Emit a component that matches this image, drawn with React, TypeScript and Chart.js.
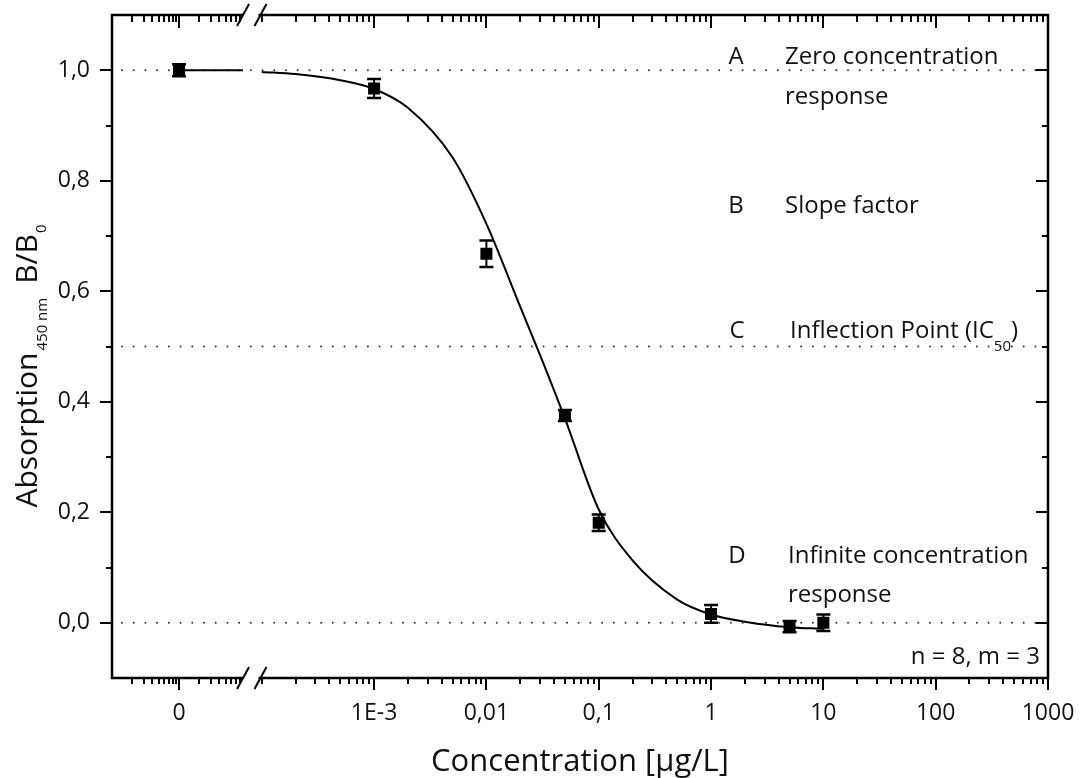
import React, { useEffect, useRef } from 'react';
import { Chart, Scale, registerables } from 'chart.js';

Chart.register(...registerables);

// ---------------- data ----------------
// measured points (concentration in µg/L, B/B0 mean, error)
const xConc = [0, 1e-3, 1e-2, 0.05, 0.1, 1, 5, 10];
const yMean = [1.0, 0.967, 0.668, 0.375, 0.181, 0.016, -0.007, 0.0];
const yErr = [0.011, 0.017, 0.024, 0.01, 0.015, 0.016, 0.01, 0.015];

// fitted sigmoid
const fitX = [1e-4, 2e-4, 5e-4, 1e-3, 2e-3, 5e-3, 0.01, 0.02, 0.03, 0.05, 0.1, 0.2, 0.5, 1, 2, 5, 10];
const fitY = [0.997, 0.993, 0.982, 0.966, 0.932, 0.842, 0.722, 0.572, 0.485, 0.37, 0.205, 0.113, 0.042, 0.015, 0.002, -0.008, -0.011];

// horizontal fit line in the "0" segment (left of the axis break)
const zeroLineX = [0, 9e-6];
const zeroLineY = [1.0, 1.0];

// dotted reference levels (A, C, D)
const refLevels = [1.0, 0.5, 0.0];

const xTickValues = [0, 1e-3, 1e-2, 0.1, 1, 10, 100, 1000];
const xTickLabels = ['0', '1E-3', '0,01', '0,1', '1', '10', '100', '1000'];
const yTickValues = [0, 0.2, 0.4, 0.6, 0.8, 1.0];
const yTickLabels = ['0,0', '0,2', '0,4', '0,6', '0,8', '1,0'];
const yMinorTicks = [0.1, 0.3, 0.5, 0.7, 0.9];

// ---------------- broken log axis geometry ----------------
const SEG = {
  zeroFrac: 0.0716, // where "0" sits (fraction of width)
  zeroDec: 0.0716, // width of a decade in the "0" segment
  zeroAt: 1e-6, // virtual value of "0" inside the left segment
  zeroSegMax: 1e-5,
  mainDec: 0.12, // width of a decade in the main segment
  mainMaxLog: 3,
  breakL: 0.14,
  breakR: 0.1565,
};

function fracOf(v: number) {
  if (v <= 0) return SEG.zeroFrac;
  if (v < SEG.zeroSegMax) return SEG.zeroFrac + Math.log10(v / SEG.zeroAt) * SEG.zeroDec;
  return 1 + (Math.log10(v) - SEG.mainMaxLog) * SEG.mainDec;
}

class BrokenLogScale extends Scale {
  static id = 'brokenLog';
  static defaults = {};
  determineDataLimits() {
    this.min = 0;
    this.max = 1000;
  }
  buildTicks() {
    return xTickValues.map((v) => ({ value: v }));
  }
  getLabelForValue(v: number) {
    return String(v);
  }
  getPixelForValue(v: number) {
    return this.getPixelForDecimal(fracOf(v));
  }
  getValueForPixel(p: number) {
    const f = this.getDecimalForPixel(p);
    if (f < (SEG.breakL + SEG.breakR) / 2) return SEG.zeroAt * Math.pow(10, (f - SEG.zeroFrac) / SEG.zeroDec);
    return Math.pow(10, (f - 1) / SEG.mainDec + SEG.mainMaxLog);
  }
}
Chart.register(BrokenLogScale);

const FONT = "'Open Sans', 'Noto Sans', sans-serif";

function minorXValues() {
  const zero: number[] = [];
  for (let m = 2; m <= 9; m++) zero.push(m * 1e-7);
  for (let m = 2; m <= 9; m++) zero.push(m * 1e-6);
  const main: number[] = [1e-4];
  for (let d = -4; d <= 2; d++) for (let m = 2; m <= 9; m++) main.push(m * Math.pow(10, d));
  return zero.concat(main);
}

const framePlugin = {
  id: 'frame',
  beforeDatasetsDraw(chart: any) {
    const { ctx, chartArea } = chart;
    const { left, right, top, bottom } = chartArea;
    const xs = chart.scales.x;
    const ys = chart.scales.y;
    ctx.save();
    // dotted reference lines
    ctx.strokeStyle = '#333';
    ctx.lineWidth = 2;
    ctx.lineCap = 'round';
    ctx.setLineDash([0.01, 11.7]);
    refLevels.forEach((lv) => {
      const py = ys.getPixelForValue(lv);
      ctx.beginPath();
      ctx.moveTo(left + 10, py);
      ctx.lineTo(right - 10, py);
      ctx.stroke();
    });
    ctx.setLineDash([]);
    ctx.lineCap = 'butt';

    // frame
    ctx.strokeStyle = '#000';
    ctx.lineWidth = 2.5;
    const bl = xs.getPixelForDecimal(SEG.breakL);
    const br = xs.getPixelForDecimal(SEG.breakR);
    ctx.beginPath();
    ctx.moveTo(left, top - 1);
    ctx.lineTo(left, bottom + 1);
    ctx.moveTo(right, top - 1);
    ctx.lineTo(right, bottom + 1);
    [top, bottom].forEach((py) => {
      ctx.moveTo(left - 1, py);
      ctx.lineTo(bl, py);
      ctx.moveTo(br, py);
      ctx.lineTo(right + 1, py);
    });
    ctx.stroke();
    // break marks
    ctx.lineWidth = 2;
    [top, bottom].forEach((py) => {
      [bl, br + 2].forEach((px) => {
        ctx.beginPath();
        ctx.moveTo(px - 6, py + 11);
        ctx.lineTo(px + 6, py - 11);
        ctx.stroke();
      });
    });

    // x ticks (bottom outward, top inward)
    ctx.lineWidth = 2;
    const drawX = (v: number, len: number) => {
      const px = Math.round(xs.getPixelForValue(v));
      if (px < left + 2 || px > right) return;
      if (px > bl - 2 && px < br + 2) return;
      ctx.beginPath();
      ctx.moveTo(px, bottom);
      ctx.lineTo(px, bottom + len);
      ctx.moveTo(px, top);
      ctx.lineTo(px, top + len + 1);
      ctx.stroke();
    };
    minorXValues().forEach((v) => drawX(v, 6));
    xTickValues.forEach((v) => drawX(v, 12));

    // y ticks (left outward, right inward)
    const drawY = (v: number, len: number) => {
      const py = Math.round(ys.getPixelForValue(v));
      ctx.beginPath();
      ctx.moveTo(left, py);
      ctx.lineTo(left - len, py);
      ctx.moveTo(right, py);
      ctx.lineTo(right - len, py);
      ctx.stroke();
    };
    yMinorTicks.forEach((v) => drawY(v, 6));
    yTickValues.forEach((v) => drawY(v, 12));

    // error bars
    ctx.lineWidth = 2;
    xConc.forEach((xv, i) => {
      const px = xs.getPixelForValue(xv);
      const y1 = ys.getPixelForValue(yMean[i] + yErr[i]);
      const y2 = ys.getPixelForValue(yMean[i] - yErr[i]);
      ctx.beginPath();
      ctx.moveTo(px, y1);
      ctx.lineTo(px, y2);
      ctx.stroke();
      ctx.lineWidth = 2.5;
      ctx.beginPath();
      ctx.moveTo(px - 7, y1);
      ctx.lineTo(px + 7, y1);
      ctx.moveTo(px - 7, y2);
      ctx.lineTo(px + 7, y2);
      ctx.stroke();
      ctx.lineWidth = 2;
    });
    ctx.restore();
  },
  afterDraw(chart: any) {
    const { ctx } = chart;
    ctx.save();
    ctx.fillStyle = '#111';
    ctx.textBaseline = 'alphabetic';
    const txt = (s: string, x: number, y: number, size: number, align: string) => {
      ctx.font = `${size}px ${FONT}`;
      ctx.textAlign = align;
      ctx.fillText(s, x, y);
    };
    txt('A', 736, 64, 24, 'center');
    txt('Zero concentration', 785, 64, 24, 'left');
    txt('response', 785, 104, 24, 'left');
    txt('B', 736, 213, 24, 'center');
    txt('Slope factor', 785, 213, 24, 'left');
    txt('C', 737, 338, 24, 'center');
    ctx.font = `24px ${FONT}`;
    ctx.textAlign = 'left';
    const s1 = 'Inflection Point (IC';
    ctx.fillText(s1, 790, 338);
    const w1 = ctx.measureText(s1).width;
    ctx.font = `15px ${FONT}`;
    ctx.fillText('50', 790 + w1, 351);
    const w2 = ctx.measureText('50').width;
    ctx.font = `24px ${FONT}`;
    ctx.fillText(')', 790 + w1 + w2, 338);
    txt('D', 737, 563, 24, 'center');
    txt('Infinite concentration', 788, 563, 24, 'left');
    txt('response', 788, 602, 24, 'left');
    txt('n = 8, m = 3', 1040, 664, 24, 'right');

    // y axis title with subscripts
    const parts = [
      { t: 'Absorption', size: 30, dy: 0, gap: 2 },
      { t: '450 nm', size: 15, dy: 10, gap: 14 },
      { t: 'B/B', size: 30, dy: 0, gap: 1 },
      { t: '0', size: 15, dy: 9, gap: 0 },
    ];
    let total = 0;
    parts.forEach((p) => {
      ctx.font = `${p.size}px ${FONT}`;
      total += ctx.measureText(p.t).width + p.gap;
    });
    const cy = 366;
    ctx.translate(37, cy + total / 2);
    ctx.rotate(-Math.PI / 2);
    ctx.textAlign = 'left';
    let cx = 0;
    parts.forEach((p) => {
      ctx.font = `${p.size}px ${FONT}`;
      ctx.fillText(p.t, cx, p.dy);
      cx += ctx.measureText(p.t).width + p.gap;
    });
    ctx.restore();
  },
};

export default function App() {
  const ref = useRef<HTMLCanvasElement | null>(null);
  useEffect(() => {
    if (!ref.current) return;
    Chart.defaults.font.family = FONT;
    Chart.defaults.color = '#111';
    const chart = new Chart(ref.current, {
      type: 'line',
      data: {
        datasets: [
          {
            label: 'fit',
            data: fitX.map((x, i) => ({ x, y: fitY[i] })),
            borderColor: '#000',
            borderWidth: 2,
            pointRadius: 0,
            cubicInterpolationMode: 'monotone',
            fill: false,
          },
          {
            label: 'fit0',
            data: zeroLineX.map((x, i) => ({ x, y: zeroLineY[i] })),
            borderColor: '#000',
            borderWidth: 2,
            pointRadius: 0,
            fill: false,
          },
          {
            label: 'B/B0',
            data: xConc.map((x, i) => ({ x, y: yMean[i] })),
            showLine: false,
            pointStyle: 'rect',
            pointRadius: 8.5,
            backgroundColor: '#000',
            borderColor: '#000',
            borderWidth: 0,
          },
        ],
      },
      options: {
        animation: false,
        responsive: false,
        devicePixelRatio: 1,
        events: [],
        layout: { padding: { left: 0, top: 15, right: 34, bottom: 0 } },
        plugins: { legend: { display: false }, tooltip: { enabled: false } },
        scales: {
          x: {
            type: 'brokenLog',
            position: 'bottom',
            grid: { display: false, drawTicks: false },
            border: { display: false },
            ticks: {
              autoSkip: false,
              maxRotation: 0,
              padding: 22,
              color: '#111',
              font: { size: 23, family: FONT },
              callback: (v: number) => xTickLabels[xTickValues.indexOf(v)],
            },
            title: {
              display: true,
              text: 'Concentration [µg/L]',
              color: '#111',
              font: { size: 31, family: FONT, lineHeight: 1.0 },
              padding: { top: 0, bottom: 0 },
            },
            afterFit: (s: any) => {
              s.height = 100;
              s.paddingLeft = 0;
              s.paddingRight = 0;
              s.paddingTop = 0;
              s.paddingBottom = 0;
            },
          } as any,
          y: {
            type: 'linear',
            min: -0.1,
            max: 1.1,
            grid: { display: false, drawTicks: false },
            border: { display: false },
            ticks: {
              padding: 22,
              color: '#111',
              font: { size: 23, family: FONT },
              callback: (v: number) => {
                const i = yTickValues.findIndex((t) => Math.abs(t - v) < 1e-9);
                return i >= 0 ? yTickLabels[i] : '';
              },
            },
            afterBuildTicks: (s: any) => {
              s.ticks = yTickValues.map((v) => ({ value: v }));
            },
            afterFit: (s: any) => {
              s.width = 112;
              s.paddingLeft = 0;
              s.paddingRight = 0;
              s.paddingTop = 0;
              s.paddingBottom = 0;
            },
          },
        },
      },
      plugins: [framePlugin],
    } as any);
    return () => chart.destroy();
  }, []);
  return (
    <div style={{ position: 'fixed', left: 0, top: 0, width: 1082, height: 778, background: '#fff' }}>
      <canvas ref={ref} width={1082} height={778} style={{ display: 'block' }} />
    </div>
  );
}
